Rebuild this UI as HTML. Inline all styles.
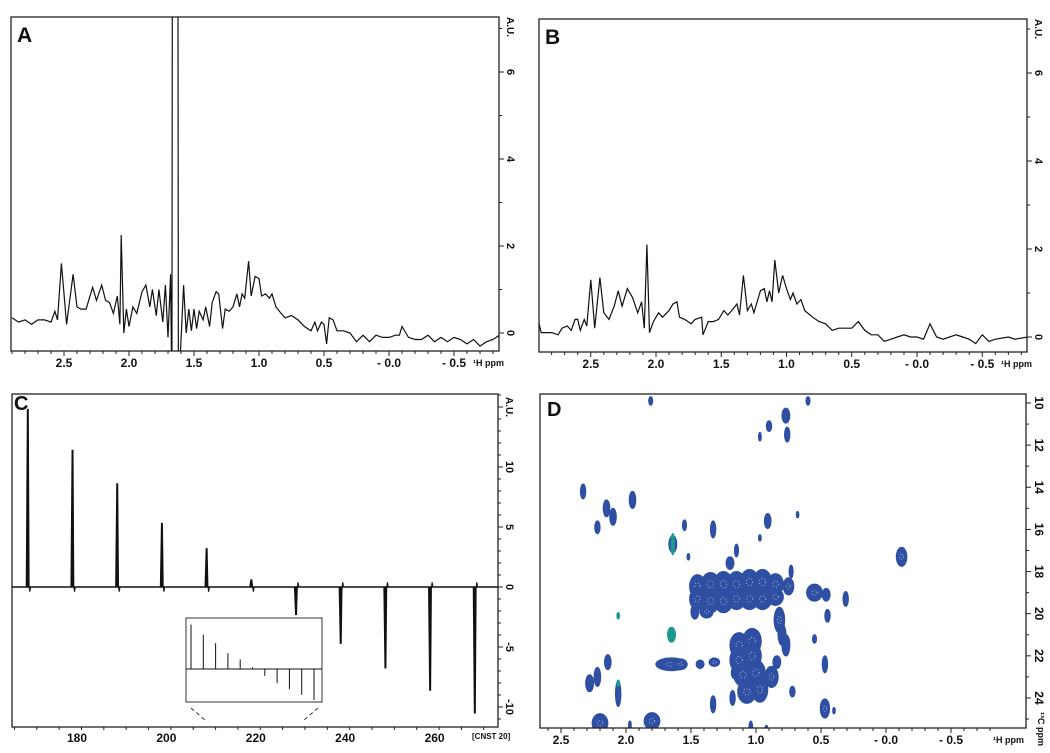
<!DOCTYPE html>
<html><head><meta charset="utf-8"><style>
html,body{margin:0;padding:0;background:#fff;}
svg{display:block;font-family:"Liberation Sans",Arial,sans-serif;font-weight:bold;}
</style></head><body>
<svg id="fig" width="1050" height="753" viewBox="0 0 1050 753" xmlns="http://www.w3.org/2000/svg">
<defs>
<clipPath id="clipA"><rect x="11" y="17" width="488" height="334"/></clipPath>
<clipPath id="clipB"><rect x="539" y="19" width="488" height="333"/></clipPath>
<clipPath id="clipC"><rect x="12" y="394" width="486" height="333"/></clipPath>
<clipPath id="clipD"><rect x="540" y="394" width="486" height="334"/></clipPath>
</defs>
</svg>
<script>
// ---- Panel A data (1H spectrum, ppm / intensity A.U.) ----
const specAppm = [2.9,2.85,2.8,2.75,2.7,2.65,2.6,2.57,2.55,2.52,2.48,2.43,2.4,2.37,2.33,2.28,2.25,2.21,2.18,2.15,2.12,2.09,2.07,2.06,2.04,2.02,2.0,1.97,1.94,1.9,1.87,1.84,1.82,1.79,1.77,1.74,1.72,1.70,1.68,1.67,1.665,1.625,1.62,1.61,1.58,1.56,1.54,1.52,1.5,1.48,1.46,1.43,1.41,1.38,1.36,1.33,1.31,1.28,1.26,1.23,1.2,1.17,1.15,1.13,1.11,1.08,1.06,1.03,1.0,0.98,0.95,0.92,0.9,0.87,0.83,0.8,0.75,0.7,0.65,0.6,0.57,0.55,0.52,0.5,0.48,0.46,0.43,0.4,0.35,0.3,0.25,0.2,0.15,0.1,0.05,0.0,-0.05,-0.08,-0.1,-0.15,-0.2,-0.25,-0.3,-0.35,-0.4,-0.45,-0.5,-0.55,-0.6,-0.65,-0.7,-0.75,-0.8,-0.85];
const specAval = [0.35,0.25,0.3,0.2,0.3,0.3,0.25,0.5,0.3,1.6,0.2,1.35,0.6,0.55,0.55,1.05,0.75,1.1,0.75,0.7,0.45,0.85,0.2,2.25,0.0,0.55,0.15,0.6,0.45,0.95,1.1,0.6,1.0,0.4,1.0,0.25,1.1,-0.1,1.35,-1.5,12,12,-1.5,-0.8,1.1,0.0,0.55,0.05,0.55,0.1,0.5,0.3,0.6,0.15,0.7,0.95,0.9,0.1,0.55,0.5,0.6,0.9,0.6,0.9,0.8,1.65,0.85,1.3,1.25,0.85,0.9,0.8,0.9,0.6,0.45,0.35,0.4,0.3,0.15,0.05,0.25,0.05,0.25,0.2,-0.25,0.35,0.3,0.05,0.05,0.0,-0.2,-0.05,-0.2,-0.05,-0.1,-0.1,-0.05,-0.05,0.15,-0.1,-0.15,-0.15,-0.05,-0.2,-0.1,-0.2,-0.1,-0.15,-0.25,-0.15,-0.3,-0.2,-0.15,-0.05];
// ---- Panel B data ----
const specBppm = [2.9,2.88,2.8,2.75,2.72,2.68,2.65,2.62,2.6,2.58,2.55,2.53,2.5,2.47,2.43,2.4,2.36,2.32,2.29,2.26,2.22,2.18,2.14,2.11,2.09,2.07,2.05,2.02,1.98,1.95,1.9,1.87,1.84,1.82,1.78,1.73,1.7,1.65,1.64,1.6,1.56,1.52,1.48,1.45,1.42,1.38,1.36,1.33,1.3,1.27,1.25,1.2,1.17,1.15,1.13,1.11,1.09,1.06,1.03,1.0,0.97,0.95,0.92,0.89,0.86,0.8,0.75,0.7,0.65,0.6,0.55,0.5,0.45,0.4,0.35,0.3,0.25,0.2,0.15,0.1,0.05,0.0,-0.05,-0.1,-0.15,-0.2,-0.3,-0.35,-0.4,-0.45,-0.5,-0.55,-0.6,-0.7,-0.75,-0.85];
const specBval = [0.35,0.1,0.1,0.05,0.2,0.25,0.15,0.4,0.4,0.15,0.4,0.25,1.3,0.2,1.35,0.55,0.4,0.7,1.05,0.7,1.1,0.9,0.55,0.8,0.2,2.1,0.1,0.35,0.55,0.45,0.6,0.75,0.8,0.45,0.4,0.3,0.4,0.45,0.05,0.35,0.35,0.4,0.6,0.5,0.6,0.75,0.5,1.4,0.6,0.75,0.55,1.05,1.1,0.8,1.05,0.8,1.75,1.0,1.4,1.1,0.85,1.0,0.75,0.85,0.6,0.45,0.35,0.3,0.15,0.2,0.2,0.2,0.35,0.15,0.05,0.05,-0.1,-0.05,0.0,0.05,0.0,0.0,-0.05,0.3,0.0,-0.05,0.05,0.0,-0.05,-0.15,0.05,-0.1,-0.05,0.0,-0.05,0.0];
// ---- Panel C data (CNST 20 array) ----
const cnstPos = [169,179,189,199,209,219,229,239,249,259,269];
const cnstAmp = [14.8,11.4,8.6,5.3,3.2,0.6,-2.3,-4.7,-6.75,-8.6,-10.5];
const cTicks = [180,200,220,240,260];
const cYTicks = [10,5,0,-5,-10];
// ---- Panel D data (HSQC contours: 1H ppm, 13C ppm, half-width H, half-width C, colour kind) ----
const hsqcH = [1.81,0.6,0.77,0.9,0.76,0.97,2.33,1.95,2.15,2.1,2.22,1.55,1.33,0.91,0.97,0.68,1.64,1.64,1.52,1.15,1.2,0.73,-0.12,
 1.45,1.35,1.25,1.15,1.05,0.95,0.85,1.45,1.35,1.25,1.15,1.05,0.95,0.85,1.47,1.38,0.75,0.55,0.46,0.31,0.45,0.47,0.55,
 1.13,1.03,1.13,1.03,1.1,1.0,1.07,0.97,0.88,0.82,0.8,0.77,0.84,1.16,
 1.65,2.06,1.65,1.58,1.43,1.32,2.14,2.22,2.28,2.06,1.33,1.18,0.72,0.47,0.4,2.2,1.8,1.97,1.04,0.92,2.06];
const hsqcC = [9.9,9.9,10.6,11.1,11.5,11.6,14.2,14.6,15.0,15.4,15.9,15.8,16.0,15.6,16.4,15.3,16.7,16.7,17.3,17.0,17.6,18.0,17.3,
 18.7,18.6,18.6,18.6,18.5,18.5,18.6,19.3,19.4,19.4,19.3,19.3,19.3,19.2,19.9,19.9,18.7,19.0,19.1,19.3,20.1,22.4,21.2,
 21.5,21.3,22.2,22.0,22.9,22.8,23.7,23.6,23.0,20.3,21.0,21.5,22.3,22.8,
 21.0,20.1,22.4,22.4,22.4,22.3,22.3,23.0,23.3,23.8,24.3,24.0,23.7,24.5,24.6,25.2,25.1,25.3,25.5,25.5,23.3];
const hsqcWH = [0.015,0.015,0.03,0.02,0.02,0.01,0.02,0.025,0.025,0.025,0.02,0.015,0.02,0.025,0.01,0.008,0.03,0.012,0.01,0.015,0.03,0.015,0.04,
 0.06,0.07,0.07,0.07,0.07,0.07,0.06,0.06,0.07,0.07,0.07,0.07,0.07,0.06,0.03,0.05,0.04,0.06,0.03,0.02,0.02,0.02,0.015,
 0.07,0.07,0.07,0.07,0.07,0.07,0.07,0.06,0.05,0.04,0.03,0.03,0.03,0.03,
 0.03,0.005,0.12,0.05,0.03,0.04,0.025,0.025,0.03,0.02,0.02,0.02,0.02,0.035,0.008,0.06,0.06,0.01,0.015,0.012,0.005];
const hsqcWC = [0.2,0.2,0.35,0.25,0.35,0.2,0.35,0.4,0.4,0.4,0.3,0.25,0.4,0.35,0.15,0.15,0.4,0.5,0.15,0.3,0.3,0.3,0.45,
 0.55,0.55,0.6,0.6,0.6,0.6,0.5,0.5,0.55,0.55,0.5,0.5,0.5,0.4,0.35,0.3,0.4,0.4,0.3,0.35,0.3,0.4,0.2,
 0.6,0.6,0.6,0.6,0.55,0.6,0.55,0.6,0.5,0.6,0.5,0.5,0.3,0.3,
 0.35,0.15,0.3,0.25,0.2,0.2,0.35,0.45,0.4,0.6,0.4,0.35,0.25,0.45,0.15,0.45,0.4,0.2,0.4,0.2,0.15];
const hsqcKind = [0,0,0,0,0,0,0,0,0,0,0,0,0,0,0,0,0,1,0,0,0,0,0,
 0,0,0,0,0,0,0,0,0,0,0,0,0,0,0,0,0,0,0,0,0,0,0,
 0,0,0,0,0,0,0,0,0,0,0,0,0,0,
 1,1,0,0,0,0,0,0,0,0,0,0,0,0,0,0,0,0,0,0,1];
const hTicks = [2.5,2.0,1.5,1.0,0.5,0.0,-0.5];
const hTickLabels = ["2.5","2.0","1.5","1.0","0.5","- 0.0","- 0.5"];
const dYTicks = [10,12,14,16,18,20,22,24];
const specYTicks = [0,2,4,6];

const svg = document.getElementById('fig');
const NS = 'http://www.w3.org/2000/svg';
function mk(tag, attrs, parent){
  const e = document.createElementNS(NS, tag);
  for (const k in attrs) e.setAttribute(k, attrs[k]);
  (parent||svg).appendChild(e);
  return e;
}
function txt(x,y,s,size,parent,anchor,rot){
  const t = mk('text',{x:x,y:y,'font-size':size,'text-anchor':anchor||'middle',fill:'#111'},parent);
  if (rot) t.setAttribute('transform','rotate(90 '+x+' '+y+')');
  t.textContent = s;
  return t;
}

// ---------- 1H spectrum panels ----------
function specPanel(id, L, T, R, B, x0, xs, y0, ys, ppm, val, letter){
  const g = mk('g',{});
  
  
  const X = p => x0 - p*xs;
  const Y = v => y0 - v*ys;
  const fr = mk('rect',{x:L,y:T,width:R-L,height:B-T,fill:'none',stroke:'#222','stroke-width':1.3},g);
  
  
  let d = '';
  for (let i=0;i<ppm.length;i++) d += (i?'L':'M')+X(ppm[i]).toFixed(1)+' '+Y(val[i]).toFixed(1);
  const ln = mk('path',{d:d,fill:'none',stroke:'#111','stroke-width':1.2,'clip-path':'url(#clip'+id+')'},g);
  
  
  const xa = mk('g',{},g);
  
  
  for (let k=-9;k<=29;k++){
    const p = k/10, x = X(p);
    if (x<L||x>R) continue;
    mk('line',{x1:x,y1:B,x2:x,y2:B+(k%5===0?5:3),stroke:'#222','stroke-width':1},xa);
  }
  hTicks.forEach((p,i)=>{ const t=txt(X(p),B+16,hTickLabels[i],12,xa);
    
     });
  const xt = txt(R-26,B+15,'¹H ppm',9,xa,'start');
  
  
  const ya = mk('g',{},g);
  
  
  for (let v=0; v<=7; v++){
    const y = Y(v); if (y<T) continue;
    mk('line',{x1:R,y1:y,x2:R+(v%2===0?5:3),y2:y,stroke:'#222','stroke-width':1},ya);
  }
  specYTicks.forEach(v=>{ const t=txt(R+8,Y(v),String(v),11,ya,'middle',true);
    
     });
  const yt = txt(R+8,T+10,'A.U.',10,ya,'middle',true);
  
  
  const lt = txt(L+6,T+25,letter,21,g,'start');
  
  
}
specPanel('A',11,17,499,351,389,130,333,43.5,specAppm,specAval,'A');
specPanel('B',539,19,1027,352,917,130.5,337,44,specBppm,specBval,'B');

// ---------- Panel C ----------
(function(){
  const L=12,T=394,R=498,B=727;
  const g = mk('g',{});
  
  
  const X = v => 77 + (v-180)*4.47;
  const Y = v => 587 - v*12;
  const fr = mk('rect',{x:L,y:T,width:R-L,height:B-T,fill:'none',stroke:'#222','stroke-width':1.3},g);
  
  
  const cg = mk('g',{'clip-path':'url(#clipC)'},g);
  const base = mk('line',{x1:L,y1:Y(0),x2:R,y2:Y(0),stroke:'#111','stroke-width':1.6},cg);
  
  
  cnstPos.forEach((p,i)=>{
    const x = X(p), a = cnstAmp[i];
    const d = 'M'+(x-1.6)+' '+Y(0)+'L'+(x-0.5)+' '+Y(a)+'L'+(x+0.5)+' '+Y(a)+'L'+(x+1.3)+' '+Y(0)+'L'+(x+2)+' '+Y(-Math.sign(a)*0.4)+'L'+(x+2.8)+' '+Y(0);
    const pk = mk('path',{d:d,fill:'#111',stroke:'#111','stroke-width':1},cg);
    
    
  });
  const xa = mk('g',{},g);
  
  
  for (let v=166; v<=272; v+=5){
    const x=X(v); if(x<L||x>R) continue;
    mk('line',{x1:x,y1:B,x2:x,y2:B+(v%20===0?5:3),stroke:'#222','stroke-width':1},xa);
  }
  cTicks.forEach(v=>{ const t=txt(X(v),B+15,String(v),12,xa);
    
     });
  const xt = txt(472,B+12,'[CNST 20]',8,xa,'start');
  
  
  const ya = mk('g',{},g);
  
  
  for (let v=-11; v<=16; v++){
    const y=Y(v); if(y<T||y>B) continue;
    mk('line',{x1:R,y1:y,x2:R+(v%5===0?5:3),y2:y,stroke:'#222','stroke-width':1},ya);
  }
  cYTicks.forEach(v=>{ const t=txt(R+8,Y(v),String(v),11,ya,'middle',true);
    
     });
  const yt = txt(R+8,T+13,'A.U.',10,ya,'middle',true);
  
  
  const lt = txt(L+2,T+16,'C',20,g,'start');
  
  
  const ig = mk('g',{},g);
  
  
  mk('rect',{x:186,y:618,width:136,height:84,fill:'#fff',stroke:'#333','stroke-width':1},ig);
  const iy = a => 669 - a*3;
  mk('line',{x1:186,y1:669,x2:322,y2:669,stroke:'#111','stroke-width':1},ig);
  cnstPos.forEach((p,i)=>{
    const x = 191 + (p-cnstPos[0])*1.23;
    const s = mk('line',{x1:x,y1:669,x2:x,y2:Math.max(620,Math.min(700,iy(cnstAmp[i]))),stroke:'#111','stroke-width':1},ig);
    
    
  });
  mk('line',{x1:191,y1:708,x2:205,y2:720,stroke:'#333','stroke-width':1,'stroke-dasharray':'4,3'},ig);
  mk('line',{x1:318,y1:708,x2:304,y2:720,stroke:'#333','stroke-width':1,'stroke-dasharray':'4,3'},ig);
})();

// ---------- Panel D ----------
(function(){
  const L=540,T=394,R=1026,B=728;
  const g = mk('g',{});
  
  
  const X = p => 886 - p*130;
  const Y = c => 403 + (c-10)*21.07;
  const cg = mk('g',{'clip-path':'url(#clipD)'},g);
  hsqcH.forEach((h,i)=>{
    const rx = Math.max(1.2, hsqcWH[i]*130), ry = Math.max(1.2, hsqcWC[i]*21.07);
    const col = hsqcKind[i] ? '#1a9a8e' : '#2f4fa3';
    const e = mk('ellipse',{cx:X(h),cy:Y(hsqcC[i]),rx:rx,ry:ry,fill:col,stroke:col,'stroke-width':1.2},cg);
    
    
    if (rx>4 && ry>4){
      mk('ellipse',{cx:X(h),cy:Y(hsqcC[i]),rx:rx*0.35,ry:ry*0.3,fill:'none',stroke:'#c8d2ea','stroke-width':0.8,'stroke-dasharray':'1,2'},cg);
    }
  });
  const fr = mk('rect',{x:L,y:T,width:R-L,height:B-T,fill:'none',stroke:'#222','stroke-width':1.3},g);
  
  
  const xa = mk('g',{},g);
  
  
  for (let k=-8;k<=28;k++){
    const x=X(k/10); if(x<L||x>R) continue;
    mk('line',{x1:x,y1:B,x2:x,y2:B+(k%5===0?5:3),stroke:'#222','stroke-width':1},xa);
  }
  hTicks.forEach((p,i)=>{ const t=txt(X(p),B+16,hTickLabels[i],12,xa);
    
     });
  const xt = txt(993,B+15,'¹H ppm',9,xa,'start');
  
  
  const ya = mk('g',{},g);
  
  
  for (let c=10;c<=25;c++){
    const y=Y(c); if(y<T||y>B) continue;
    mk('line',{x1:R,y1:y,x2:R+(c%2===0?5:3),y2:y,stroke:'#222','stroke-width':1},ya);
  }
  dYTicks.forEach(c=>{ const t=txt(R+9,Y(c),String(c),12,ya,'middle',true);
    
     });
  const yt = txt(1038,729,'¹³C ppm',9,ya,'middle',true);
  
  
  const lt = txt(L+7,T+22,'D',20,g,'start');
  
  
})();
</script>
</body></html>
